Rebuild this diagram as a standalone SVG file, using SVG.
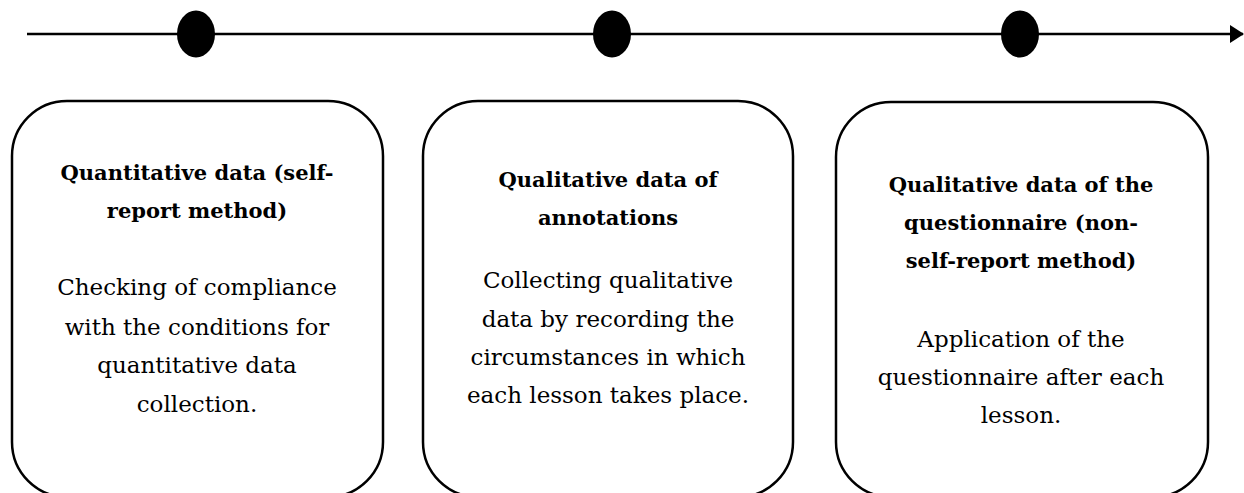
<svg xmlns="http://www.w3.org/2000/svg" width="1244" height="493" viewBox="0 0 1244 493">
<style>
.box{fill:#fff;stroke:#000;stroke-width:2.5}
.t{font-family:"DejaVu Serif",serif;font-weight:bold;font-size:21px;text-anchor:middle;fill:#000}
.b{font-family:"DejaVu Serif",serif;font-size:23px;text-anchor:middle;fill:#000}
.dot{fill:#000}
</style>
<defs>
<marker id="arr" markerWidth="14" markerHeight="18" refX="13" refY="9" orient="auto" markerUnits="userSpaceOnUse">
<path d="M0,0 L14,9 L0,18 Z" fill="#000"/>
</marker>
</defs>
<g id="connectors">
<line x1="27" y1="34" x2="1243" y2="34" stroke="#000" stroke-width="2.5" marker-end="url(#arr)"/>
</g>
<g id="dot1"><ellipse class="dot" cx="196" cy="34" rx="19" ry="23.5"/></g>
<g id="dot2"><ellipse class="dot" cx="612" cy="34" rx="19" ry="23.5"/></g>
<g id="dot3"><ellipse class="dot" cx="1020" cy="34" rx="19" ry="23.5"/></g>
<g id="node1">
<rect class="box" x="12" y="101" width="371" height="396" rx="55" ry="55"/>
<text class="t" x="197" y="180">Quantitative data (self-</text>
<text class="t" x="197" y="218">report method)</text>
<text class="b" x="197" y="295">Checking of compliance</text>
<text class="b" x="197" y="335">with the conditions for</text>
<text class="b" x="197" y="373">quantitative data</text>
<text class="b" x="197" y="412">collection.</text>
</g>
<g id="node2">
<rect class="box" x="423" y="101" width="370" height="396" rx="55" ry="55"/>
<text class="t" x="608" y="187">Qualitative data of</text>
<text class="t" x="608" y="225">annotations</text>
<text class="b" x="608" y="288">Collecting qualitative</text>
<text class="b" x="608" y="327">data by recording the</text>
<text class="b" x="608" y="365">circumstances in which</text>
<text class="b" x="608" y="403">each lesson takes place.</text>
</g>
<g id="node3">
<rect class="box" x="836" y="102" width="372" height="395" rx="55" ry="55"/>
<text class="t" x="1021" y="192">Qualitative data of the</text>
<text class="t" x="1021" y="230">questionnaire (non-</text>
<text class="t" x="1021" y="268">self-report method)</text>
<text class="b" x="1021" y="347">Application of the</text>
<text class="b" x="1021" y="385">questionnaire after each</text>
<text class="b" x="1021" y="423">lesson.</text>
</g>
</svg>
